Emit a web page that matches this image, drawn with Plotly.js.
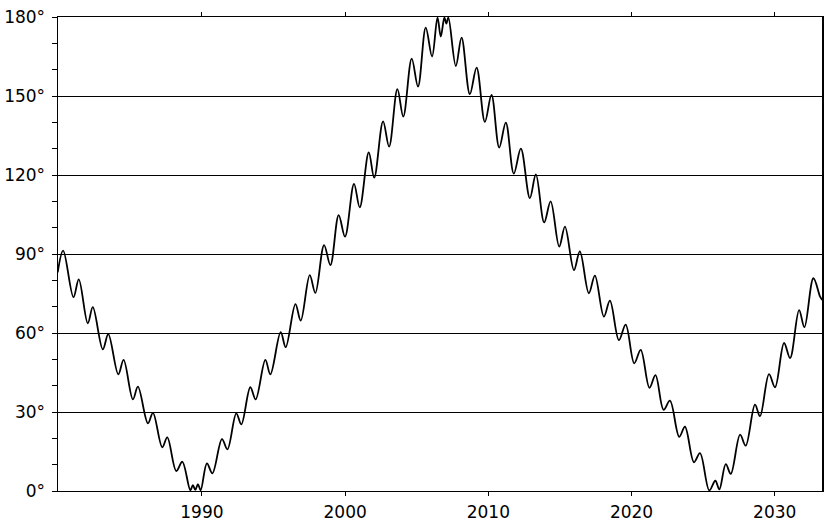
<!DOCTYPE html>
<html>
<head>
<meta charset="utf-8">
<script src="https://cdn.plot.ly/plotly-3.0.1.min.js"></script>
<style>html,body{margin:0;padding:0;background:#fff;}#chart{width:824px;height:525px;}</style>
</head>
<body>
<div id="chart"></div>
<script>
// Years (decimal) and angle values (degrees)
const years = [
  1979.93, 1980.31, 1981.03, 1981.40, 1982.03, 1982.38, 1983.08, 1983.46, 1984.16, 1984.53,
  1985.18, 1985.53, 1986.23, 1986.58, 1987.23, 1987.58, 1988.21, 1988.63, 1989.19, 1989.37,
  1989.54, 1989.72, 1989.91, 1990.35, 1990.73, 1991.40, 1991.78, 1992.40, 1992.75, 1993.38,
  1993.75, 1994.43, 1994.78, 1995.50, 1995.85, 1996.53, 1996.90, 1997.53, 1997.92, 1998.53,
  1998.97, 1999.55, 1999.99, 2000.62, 2001.02, 2001.65, 2002.03, 2002.65, 2003.07, 2003.65,
  2004.06, 2004.65, 2005.09, 2005.63, 2006.07, 2006.45, 2006.68, 2006.93, 2007.07, 2007.21,
  2007.73, 2008.13, 2008.71, 2009.18, 2009.76, 2010.22, 2010.76, 2011.22, 2011.78, 2012.27,
  2012.90, 2013.32, 2013.90, 2014.35, 2014.95, 2015.35, 2015.98, 2016.39, 2017.02, 2017.44,
  2018.07, 2018.49, 2019.12, 2019.59, 2020.19, 2020.64, 2021.25, 2021.67, 2022.24, 2022.68,
  2023.33, 2023.73, 2024.36, 2024.78, 2025.43, 2025.85, 2026.13, 2026.58, 2026.93, 2027.58,
  2027.97, 2028.62, 2028.97, 2029.60, 2030.02, 2030.65, 2031.07, 2031.70, 2032.07, 2032.70,
  2033.17, 2033.32
];
const angles = [
  83.0, 91.3, 73.6, 80.4, 63.7, 69.8, 53.8, 59.6, 44.3, 49.8,
  34.8, 39.6, 25.7, 29.7, 16.6, 20.4, 7.6, 11.1, 0.3, 2.2,
  0.4, 2.6, 0.3, 10.5, 6.7, 19.7, 15.8, 29.5, 25.3, 39.4,
  34.8, 49.8, 44.3, 60.3, 54.6, 71.0, 64.7, 82.0, 75.2, 93.4,
  85.8, 104.8, 96.6, 116.6, 107.7, 128.6, 119.0, 140.4, 130.8, 152.6,
  142.2, 164.2, 153.6, 176.0, 165.0, 179.8, 172.6, 179.8, 177.5, 179.8,
  161.4, 172.2, 150.7, 160.8, 140.2, 150.4, 130.4, 139.9, 120.5, 130.0,
  111.2, 120.2, 102.0, 110.0, 92.8, 100.4, 83.9, 91.0, 75.1, 81.8,
  66.2, 72.3, 57.3, 63.2, 48.5, 53.6, 39.2, 44.0, 30.8, 34.3,
  20.6, 24.4, 10.9, 14.4, 0.2, 3.9, 0.6, 10.2, 6.5, 21.4,
  17.2, 32.8, 28.4, 44.4, 39.4, 56.2, 50.5, 68.7, 62.2, 80.8,
  73.8, 72.5
];
const xTickVals = [1990, 2000, 2010, 2020, 2030];
const xTickText = ['1990', '2000', '2010', '2020', '2030'];
const yTickVals = [0, 30, 60, 90, 120, 150, 180];
const yTickText = ['0°', '30°', '60°', '90°', '120°', '150°', '180°'];

const font = {family: 'DejaVu Sans, Verdana, sans-serif', size: 17, color: '#000'};

const trace = {
  x: years, y: angles, type: 'scatter', mode: 'lines',
  line: {color: '#000', width: 1.8, shape: 'spline', smoothing: 1},
  hoverinfo: 'skip'
};

const layout = {
  width: 824, height: 525,
  margin: {l: 58, r: 2, t: 17, b: 34, pad: 0},
  paper_bgcolor: '#fff', plot_bgcolor: '#fff',
  showlegend: false,
  font: font,
  xaxis: {
    range: [1979.95, 2033.3],
    tickmode: 'array', tickvals: xTickVals, ticktext: xTickText,
    ticks: 'outside', ticklen: 4, tickwidth: 1, tickcolor: '#000',
    showline: true, linecolor: '#000', linewidth: 1.3, mirror: 'ticks',
    showgrid: false, zeroline: false,
    tickfont: font, ticklabelstandoff: 1
  },
  yaxis: {
    range: [0, 180],
    tickmode: 'array', tickvals: yTickVals, ticktext: yTickText,
    ticks: 'outside', ticklen: 5, tickwidth: 1, tickcolor: '#000',
    minor: {dtick: 10, tick0: 0, ticks: 'outside', ticklen: 5, tickwidth: 1, tickcolor: '#000', showgrid: false},
    showline: true, linecolor: '#000', linewidth: 1.5, mirror: 'ticks',
    showgrid: true, gridcolor: '#000', gridwidth: 1,
    zeroline: false,
    tickfont: font, ticklabelstandoff: 3
  }
};

Plotly.newPlot('chart', [trace], layout, {staticPlot: true, displayModeBar: false});
</script>
</body>
</html>
